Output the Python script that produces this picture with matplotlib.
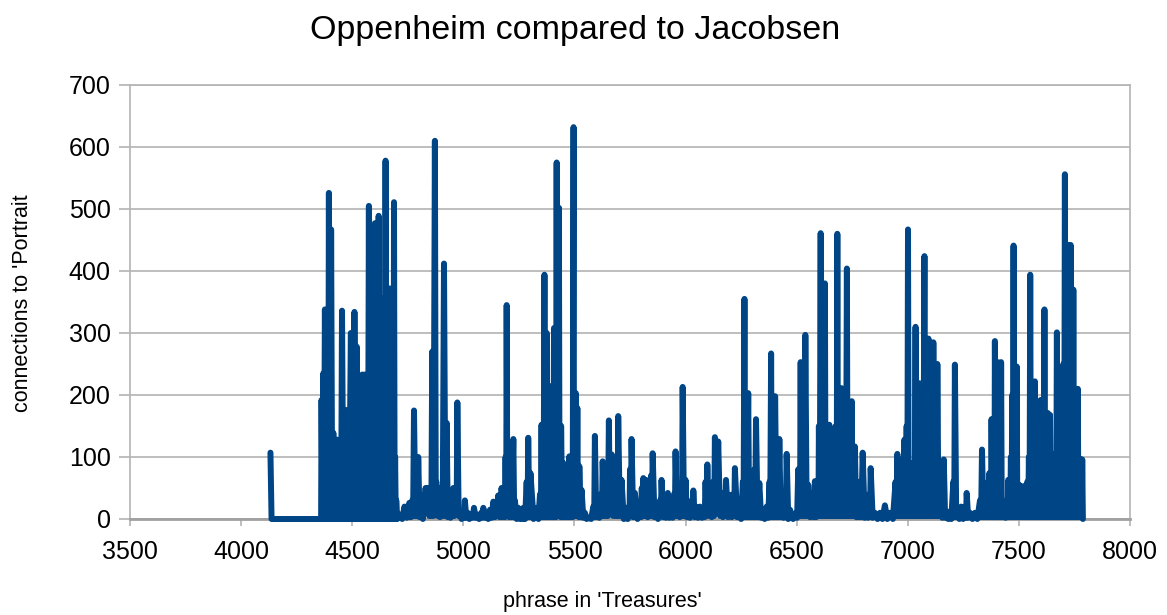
import matplotlib
matplotlib.use("Agg")
from matplotlib import pyplot as plt

plt.rcParams['font.family'] = ['Liberation Sans', 'DejaVu Sans']

# phrase number in 'Treasures' (x) and connections to 'Portrait' (y)
phrase = [
    4132, 4137, 4360,
    # 4360 - 4700
    4362, 4366, 4370, 4373, 4377, 4383, 4390, 4392, 4395, 4398, 4400, 4402, 4405, 4410, 4415, 4420,
    4426, 4430, 4433, 4440, 4447, 4450, 4454, 4460, 4466, 4468, 4470, 4475, 4480, 4486, 4494, 4497,
    4500, 4502, 4505, 4508, 4510, 4513, 4515, 4518, 4520, 4525, 4530, 4535, 4540, 4543, 4545, 4548,
    4550, 4553, 4556, 4562, 4568, 4571, 4575, 4578, 4580, 4583, 4585, 4590, 4595, 4597, 4598, 4600,
    4602, 4607, 4612, 4616, 4619, 4621, 4623, 4628, 4632, 4637, 4643, 4647, 4650, 4653, 4655, 4658,
    4660, 4664, 4667, 4672, 4677, 4680, 4683, 4686, 4688, 4691, 4693, 4696, 4698, 4703,
    # 4700 - 5190
    4715, 4725, 4735, 4746, 4757, 4764, 4770, 4774, 4778, 4784, 4790, 4794, 4797, 4803, 4810, 4818,
    4825, 4828, 4830, 4835, 4840, 4846, 4852, 4856, 4860, 4866, 4872, 4876, 4878, 4884, 4890, 4895,
    4900, 4907, 4913, 4919, 4925, 4930, 4935, 4942, 4948, 4952, 4955, 4960, 4966, 4970, 4973, 4979,
    4985, 4992, 5000, 5004, 5007, 5013, 5020, 5027, 5035, 5042, 5048, 5055, 5062, 5071, 5080, 5085,
    5090, 5097, 5105, 5112, 5120, 5128, 5135, 5142, 5150, 5154, 5157, 5163, 5168, 5170, 5172, 5178,
    5183, 5187,
    # 5190 - 5560
    5190, 5193, 5195, 5198, 5200, 5206, 5212, 5218, 5225, 5229, 5232, 5240, 5247, 5255, 5262, 5266,
    5270, 5278, 5285, 5289, 5292, 5297, 5302, 5316, 5330, 5338, 5345, 5349, 5352, 5355, 5358, 5361,
    5365, 5368, 5370, 5373, 5375, 5379, 5382, 5385, 5387, 5390, 5392, 5395, 5397, 5400, 5402, 5405,
    5408, 5411, 5413, 5417, 5420, 5423, 5425, 5428, 5430, 5433, 5435, 5438, 5440, 5445, 5450, 5454,
    5457, 5464, 5470, 5474, 5477, 5483, 5488, 5492, 5496, 5498, 5500, 5503, 5506, 5510, 5513, 5516,
    5518, 5520, 5522, 5527, 5532, 5540, 5547, 5555,
    # 5560 - 6250
    5565, 5575, 5585, 5589, 5592, 5598, 5605, 5612, 5620, 5624, 5627, 5634, 5640, 5644, 5648, 5651,
    5655, 5659, 5662, 5665, 5668, 5674, 5680, 5685, 5690, 5694, 5697, 5704, 5712, 5722, 5735, 5740,
    5745, 5748, 5750, 5754, 5757, 5764, 5772, 5784, 5797, 5800, 5803, 5807, 5810, 5816, 5822, 5830,
    5838, 5842, 5845, 5849, 5852, 5860, 5867, 5876, 5885, 5889, 5892, 5898, 5905, 5912, 5920, 5927,
    5935, 5942, 5948, 5952, 5955, 5961, 5967, 5974, 5980, 5984, 5987, 5993, 6000, 6006, 6012, 6020,
    6028, 6032, 6035, 6041, 6047, 6056, 6065, 6074, 6082, 6086, 6090, 6094, 6098, 6104, 6110, 6118,
    6125, 6129, 6132, 6140, 6147, 6155, 6162, 6168, 6175, 6179, 6182, 6191, 6200, 6208, 6215, 6219,
    6222, 6232, 6242, 6250,
    # 6250 - 6560
    6258, 6261, 6265, 6268, 6270, 6276, 6282, 6286, 6290, 6296, 6303, 6306, 6310, 6313, 6317, 6324,
    6332, 6340, 6347, 6356, 6365, 6372, 6378, 6381, 6385, 6388, 6390, 6394, 6397, 6400, 6403, 6409,
    6415, 6418, 6422, 6428, 6434, 6441, 6448, 6451, 6455, 6462, 6470, 6484, 6497, 6502, 6507, 6510,
    6512, 6515, 6518, 6521, 6524, 6527, 6530, 6535, 6539, 6545, 6552, 6560,
    # 6560 - 6960
    6570, 6576, 6582, 6588, 6595, 6598, 6600, 6604, 6608, 6611, 6613, 6617, 6620, 6624, 6627, 6630,
    6632, 6636, 6640, 6644, 6647, 6650, 6653, 6659, 6665, 6668, 6670, 6673, 6676, 6680, 6683, 6686,
    6688, 6692, 6695, 6699, 6702, 6705, 6708, 6713, 6718, 6722, 6726, 6729, 6732, 6736, 6740, 6744,
    6748, 6751, 6753, 6758, 6762, 6768, 6775, 6780, 6785, 6791, 6797, 6806, 6815, 6821, 6827, 6830,
    6833, 6842, 6852, 6864, 6875, 6886, 6897, 6908, 6920, 6933, 6945, 6949, 6953, 6958,
    # 6960 - 7340
    6965, 6968, 6972, 6975, 6978, 6981, 6985, 6990, 6995, 6998, 7001, 7004, 7006, 7009, 7012, 7017,
    7022, 7025, 7028, 7031, 7035, 7038, 7040, 7043, 7047, 7050, 7052, 7055, 7058, 7061, 7065, 7070,
    7075, 7078, 7080, 7084, 7087, 7090, 7093, 7096, 7098, 7101, 7105, 7108, 7110, 7113, 7115, 7118,
    7120, 7124, 7127, 7130, 7133, 7138, 7148, 7155, 7162, 7168, 7175, 7182, 7188, 7196, 7205, 7209,
    7212, 7218, 7225, 7232, 7240, 7249, 7258, 7262, 7265, 7272, 7280, 7291, 7302, 7313, 7325, 7330,
    7334, 7340,
    # 7340 - 7790
    7346, 7349, 7352, 7356, 7360, 7364, 7367, 7370, 7372, 7375, 7377, 7380, 7382, 7385, 7387, 7390,
    7392, 7395, 7397, 7401, 7405, 7408, 7410, 7413, 7415, 7418, 7420, 7423, 7425, 7430, 7434, 7440,
    7445, 7449, 7452, 7455, 7458, 7461, 7464, 7467, 7470, 7473, 7476, 7479, 7482, 7486, 7490, 7493,
    7495, 7499, 7502, 7505, 7508, 7511, 7514, 7517, 7520, 7523, 7525, 7528, 7532, 7535, 7538, 7542,
    7545, 7548, 7551, 7554, 7556, 7558, 7560, 7563, 7565, 7569, 7572, 7575, 7577, 7580, 7582, 7585,
    7587, 7590, 7592, 7595, 7598, 7601, 7603, 7606, 7609, 7612, 7615, 7618, 7620, 7623, 7625, 7628,
    7630, 7633, 7635, 7638, 7640, 7643, 7645, 7648, 7650, 7653, 7655, 7658, 7660, 7663, 7665, 7668,
    7671, 7674, 7676, 7679, 7682, 7685, 7687, 7690, 7692, 7694, 7695, 7698, 7700, 7704, 7707, 7710,
    7712, 7715, 7717, 7720, 7722, 7725, 7727, 7730, 7733, 7736, 7738, 7742, 7745, 7748, 7750, 7753,
    7755, 7757, 7758, 7762, 7765, 7768, 7770, 7773, 7775, 7778, 7780, 7783, 7785, 7788,
]
connections = [
    107, 0, 0,
    # 4360 - 4700
    192, 0, 235, 0, 338, 0, 200, 0, 526, 0, 150, 0, 467, 0, 139, 0,
    120, 0, 128, 0, 100, 0, 336, 0, 110, 0, 176, 0, 74, 0, 300, 0,
    90, 0, 200, 0, 334, 0, 150, 0, 278, 0, 133, 0, 180, 0, 233, 0,
    80, 0, 233, 0, 150, 0, 505, 0, 100, 0, 260, 0, 335, 0, 120, 0,
    477, 0, 300, 0, 489, 0, 200, 0, 356, 0, 250, 0, 578, 0, 150, 0,
    300, 0, 372, 0, 250, 0, 120, 0, 511, 0, 100, 0, 30, 0,
    # 4700 - 5190
    7, 0, 20, 2, 26, 3, 30, 5, 175, 5, 60, 5, 100, 3, 10, 0,
    40, 10, 50, 10, 50, 5, 40, 5, 270, 5, 610, 20, 60, 5, 31, 3,
    50, 5, 412, 5, 155, 3, 34, 2, 20, 5, 50, 5, 50, 10, 188, 5,
    7, 0, 8, 2, 30, 2, 10, 0, 8, 2, 18, 2, 7, 0, 10, 2,
    18, 2, 10, 0, 15, 2, 28, 3, 20, 5, 38, 3, 20, 5, 50, 3,
    40, 3,
    # 5190 - 5560
    100, 5, 345, 5, 60, 3, 80, 3, 129, 3, 30, 0, 18, 0, 15, 0,
    18, 0, 60, 3, 131, 3, 74, 0, 18, 0, 40, 3, 152, 3, 60, 3,
    394, 3, 100, 3, 300, 3, 214, 3, 80, 3, 214, 3, 100, 3, 150, 3,
    308, 3, 90, 3, 575, 5, 200, 5, 502, 5, 60, 3, 150, 3, 90, 3,
    69, 3, 60, 3, 101, 3, 80, 3, 632, 5, 120, 5, 203, 5, 179, 5,
    40, 3, 85, 3, 47, 2, 10, 0,
    # 5560 - 6250
    2, 0, 20, 3, 134, 3, 31, 2, 40, 5, 93, 5, 50, 5, 80, 5,
    159, 10, 70, 10, 104, 5, 50, 5, 100, 5, 166, 5, 63, 0, 2, 0,
    20, 5, 80, 5, 129, 3, 42, 0, 20, 3, 50, 5, 66, 5, 63, 3,
    40, 5, 70, 5, 106, 3, 15, 0, 30, 5, 63, 3, 20, 2, 42, 2,
    20, 2, 40, 5, 109, 5, 47, 3, 50, 5, 213, 5, 63, 3, 20, 2,
    30, 5, 46, 3, 20, 2, 20, 2, 10, 3, 60, 10, 88, 5, 40, 3,
    60, 5, 132, 10, 125, 5, 42, 3, 30, 5, 63, 3, 39, 3, 40, 5,
    82, 3, 31, 0,
    # 6250 - 6560
    60, 3, 355, 3, 50, 3, 203, 3, 66, 3, 40, 3, 80, 3, 161, 3,
    58, 2, 15, 0, 20, 2, 60, 3, 267, 3, 40, 3, 100, 3, 198, 3,
    60, 3, 129, 3, 26, 2, 40, 3, 105, 0, 15, 0, 10, 2, 80, 5,
    30, 5, 253, 5, 60, 5, 100, 5, 297, 5, 55, 3,
    # 6560 - 6960
    30, 3, 61, 3, 40, 5, 150, 5, 461, 5, 60, 5, 200, 5, 380, 5,
    50, 5, 100, 5, 152, 5, 30, 5, 109, 5, 30, 5, 150, 5, 460, 5,
    80, 5, 100, 5, 211, 5, 30, 5, 150, 5, 404, 5, 60, 5, 100, 5,
    190, 5, 30, 5, 117, 3, 40, 3, 60, 3, 107, 2, 26, 2, 40, 3,
    82, 2, 10, 0, 10, 0, 22, 0, 10, 0, 60, 5, 105, 5,
    # 6960 - 7340
    80, 5, 96, 5, 60, 5, 128, 5, 150, 5, 467, 5, 60, 5, 30, 5,
    90, 5, 60, 5, 310, 5, 60, 5, 150, 5, 219, 5, 100, 5, 150, 5,
    424, 5, 80, 5, 150, 5, 291, 5, 100, 5, 200, 5, 100, 5, 285, 5,
    100, 5, 180, 5, 250, 5, 10, 2, 96, 2, 10, 0, 12, 0, 60, 3,
    249, 3, 10, 0, 20, 0, 20, 2, 42, 2, 10, 0, 10, 0, 30, 3,
    112, 3,
    # 7340 - 7790
    40, 3, 58, 3, 40, 3, 74, 3, 50, 3, 161, 3, 60, 3, 120, 3,
    287, 3, 80, 3, 253, 3, 60, 3, 120, 3, 253, 3, 30, 3, 15, 2,
    30, 3, 63, 3, 40, 3, 100, 3, 200, 3, 441, 3, 60, 3, 246, 3,
    50, 3, 55, 3, 50, 3, 40, 3, 53, 3, 40, 3, 50, 3, 60, 3,
    100, 3, 394, 3, 60, 3, 100, 3, 150, 3, 222, 3, 60, 3, 100, 3,
    158, 3, 60, 3, 192, 3, 80, 3, 150, 3, 338, 3, 60, 3, 100, 3,
    171, 3, 60, 3, 168, 3, 60, 3, 80, 3, 104, 3, 60, 3, 100, 3,
    301, 3, 60, 3, 106, 3, 60, 3, 100, 3, 150, 3, 250, 3, 556, 3,
    100, 3, 300, 3, 442, 3, 100, 3, 442, 3, 150, 3, 370, 3, 100, 3,
    100, 3, 150, 3, 210, 3, 96, 3, 96, 3, 96, 3, 96, 0,
]

y_ticks = [0, 100, 200, 300, 400, 500, 600, 700]
x_ticks = [3500, 4000, 4500, 5000, 5500, 6000, 6500, 7000, 7500, 8000]

fig = plt.figure(figsize=(11.67, 6.15), dpi=100)
ax = fig.add_axes([130 / 1167, 1 - 519 / 615, 1000 / 1167, 434 / 615])

ax.plot(phrase, connections, color='#004586', lw=4.3,
        solid_joinstyle='round', solid_capstyle='round', clip_on=False, zorder=3)

ax.set_xlim(3500, 8000)
ax.set_ylim(0, 700)
ax.set_xticks(x_ticks)
ax.set_yticks(y_ticks)
ax.yaxis.grid(True, color='#b3b3b3', lw=1.2)
ax.set_axisbelow(True)

for side in ['left', 'right', 'top']:
    ax.spines[side].set_color('#b3b3b3')
    ax.spines[side].set_linewidth(1.2)
ax.spines['bottom'].set_color('#a0a0a0')
ax.spines['bottom'].set_linewidth(2)

ax.tick_params(axis='y', length=8, width=1.2, color='#b3b3b3', pad=6, labelsize=18)
ax.tick_params(axis='x', length=5, width=1.2, color='#b3b3b3', pad=10, labelsize=18)

fig.text(575 / 1167, 1 - 30 / 615, 'Oppenheim compared to Jacobsen',
         ha='center', va='center', fontsize=24.5)
fig.text(602 / 1167, 1 - 601 / 615, "phrase in 'Treasures'",
         ha='center', va='center', fontsize=15.5)
fig.text(23 / 1167, 1 - 303 / 615, "connections to 'Portrait",
         ha='center', va='center', rotation=90, fontsize=15.5)

fig.savefig('out.png', dpi=100)
